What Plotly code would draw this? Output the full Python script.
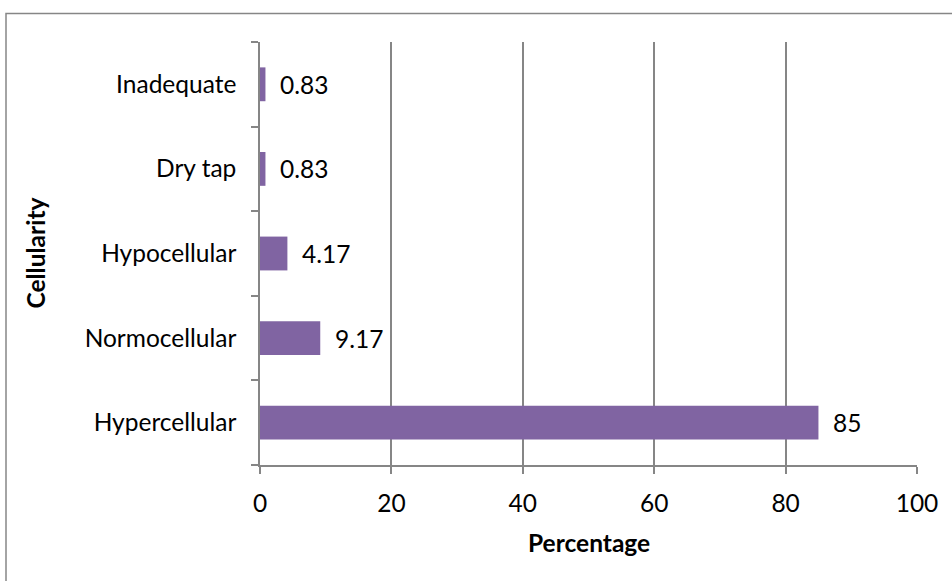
import plotly.graph_objects as go

categories = ["Hypercellular", "Normocellular", "Hypocellular", "Dry tap", "Inadequate"]
values = [85, 9.17, 4.17, 0.83, 0.83]
labels = ["85", "9.17", "4.17", "0.83", "0.83"]
x_ticks = [0, 20, 40, 60, 80, 100]

FONT = "Lato"
FS = 24.5
fig = go.Figure()
fig.add_trace(go.Bar(
    x=values, y=categories, orientation="h",
    marker=dict(color="#8064A2", line=dict(width=0)),
    hoverinfo="skip",
))
for c, v, t in zip(categories, values, labels):
    fig.add_annotation(x=v, y=c, text=t, showarrow=False, xanchor="left",
                       xshift=13, font=dict(family=FONT, size=FS, color="black"))

fig.add_annotation(xref="paper", yref="paper", x=(35 - 260) / 657, y=0.5,
                   text="<b>Cellularity</b>", textangle=-90, showarrow=False,
                   xanchor="center", yanchor="middle",
                   font=dict(family=FONT, size=FS, color="black"))
fig.add_annotation(xref="paper", yref="paper", x=(589 - 260) / 657, y=(465 - 542) / 423,
                   text="<b>Percentage</b>", showarrow=False,
                   xanchor="center", yanchor="middle",
                   font=dict(family=FONT, size=FS, color="black"))

fig.update_layout(
    width=952, height=581,
    margin=dict(l=260, r=35, t=42, b=116),
    paper_bgcolor="white", plot_bgcolor="white",
    bargap=0.6, showlegend=False,
    font=dict(family=FONT, size=FS, color="black"),
)
fig.update_xaxes(
    range=[0, 100], tickvals=x_ticks, showgrid=True, gridcolor="#868686", gridwidth=1.5,
    showline=True, linecolor="#868686", linewidth=1.5,
    ticks="outside", ticklen=7, tickcolor="#868686", tickwidth=1.5,
    zeroline=False, fixedrange=True, ticklabelstandoff=9,
)
fig.update_yaxes(
    type="category", categoryorder="array", categoryarray=categories,
    showline=True, linecolor="#868686", linewidth=1.5,
    ticks="outside", ticklen=7, tickcolor="#868686", tickwidth=1.5,
    tickson="boundaries", showgrid=False, ticklabelstandoff=17,
    fixedrange=True,
)
fig.add_shape(type="rect", xref="paper", yref="paper",
              x0=-254/657, x1=1.2, y0=-0.5, y1=(42-13.5)/423 + 1,
              line=dict(color="#868686", width=1.5), fillcolor="rgba(0,0,0,0)", layer="below")
fig.write_html("out.html")
